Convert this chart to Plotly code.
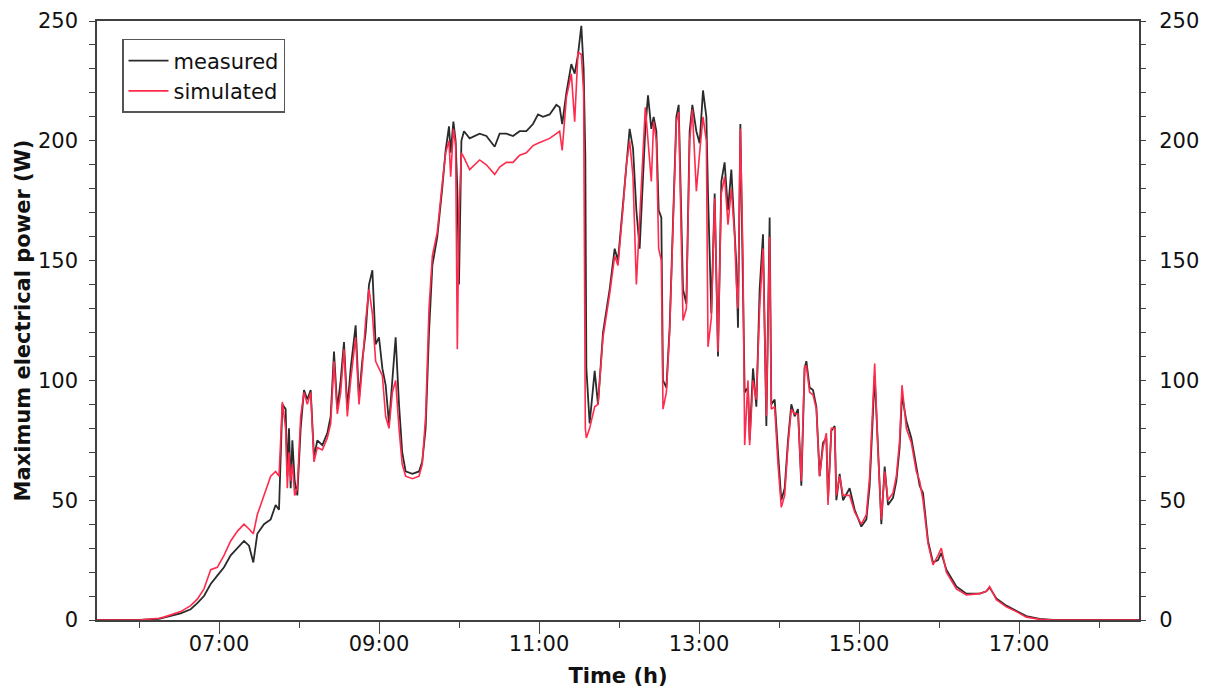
import plotly.graph_objects as go
import pandas as pd

# Time of day in decimal hours
time_h = [5.475, 6.0, 6.25, 6.3125, 6.521, 6.646, 6.729, 6.8125, 6.896, 6.979, 7.0625, 7.146, 7.229,
          7.3125, 7.375, 7.429, 7.479, 7.5625, 7.646, 7.708, 7.75, 7.771, 7.792, 7.833, 7.854, 7.875,
          7.896, 7.917, 7.946, 7.979, 8.021, 8.0625, 8.104, 8.146, 8.1875, 8.229, 8.292, 8.354, 8.396,
          8.4375, 8.479, 8.521, 8.5625, 8.604, 8.646, 8.708, 8.75, 8.79, 8.833, 8.875, 8.917, 8.958,
          9.0, 9.042, 9.083, 9.125, 9.167, 9.208, 9.25, 9.29, 9.333, 9.417, 9.5, 9.54, 9.583, 9.625,
          9.667, 9.729, 9.79, 9.833, 9.875, 9.896, 9.93, 9.958, 9.979, 10.0, 10.03, 10.0625,
          10.133, 10.258, 10.342, 10.446, 10.508, 10.592, 10.675, 10.758, 10.842, 10.925, 10.9875,
          11.05, 11.133, 11.217, 11.258, 11.29, 11.342, 11.404, 11.446, 11.4875, 11.529, 11.558,
          11.579, 11.592, 11.633, 11.696, 11.7375, 11.8, 11.883, 11.946, 11.9875, 12.05, 12.092,
          12.133, 12.175, 12.217, 12.258, 12.3, 12.329, 12.3625, 12.404, 12.433, 12.467, 12.496,
          12.529, 12.55, 12.592, 12.633, 12.675, 12.717, 12.746, 12.8, 12.842, 12.883, 12.917,
          12.967, 13.008, 13.05, 13.092, 13.1125, 13.154, 13.196, 13.2375, 13.279, 13.32, 13.3625,
          13.404, 13.446, 13.467, 13.4875, 13.517, 13.55, 13.571, 13.6125, 13.633, 13.675, 13.717,
          13.758, 13.8, 13.842, 13.883, 13.904, 13.946, 13.9875, 14.029, 14.071, 14.1125, 14.154,
          14.196, 14.2375, 14.279, 14.32, 14.342, 14.383, 14.425, 14.467, 14.508, 14.55, 14.592,
          14.6125, 14.654, 14.696, 14.717, 14.758, 14.8, 14.883, 14.946, 15.029, 15.092, 15.133,
          15.196, 15.2375, 15.279, 15.321, 15.3625, 15.425, 15.467, 15.508, 15.5375, 15.592, 15.654,
          15.717, 15.758, 15.8, 15.8625, 15.925, 15.9875, 16.029, 16.092, 16.217, 16.342, 16.508,
          16.592, 16.633, 16.717, 16.842, 16.967, 17.092, 17.258, 17.425, 18.5]

measured = [0, 0, 0.5, 1, 2.8, 4.5, 7, 10, 15, 18.5, 22, 27, 30,
            33, 31, 24, 36, 40, 42, 48, 46, 70, 90, 88, 60, 80,
            55, 75, 58, 52, 80, 96, 92, 96, 68, 75, 73, 78, 85,
            112, 88, 100, 116, 88, 105, 123, 92, 108, 120, 140, 146, 115,
            118, 105, 98, 82, 100, 118, 90, 70, 62, 61, 62, 66, 80, 120,
            148, 160, 180, 196, 206, 195, 208, 200, 180, 140, 200, 204,
            201, 203, 202, 197.5, 203, 203, 202, 204, 204, 207, 211,
            210, 211, 215, 214, 207, 220, 232, 228, 236, 248, 230,
            194, 105, 82, 104, 90, 120, 138, 155, 150, 174, 191,
            205, 197, 171, 155, 188, 205, 219, 205, 210, 204, 171,
            168, 100, 97, 122, 171, 210, 215, 138, 132, 204, 215,
            204, 199, 221, 210, 178, 128, 178, 110, 183, 191, 171,
            188, 161, 148, 122, 207, 138, 95, 97, 75, 105, 89,
            138, 161, 81, 168, 90, 92, 70, 50, 55, 75, 90,
            85, 88, 56, 105, 108, 97, 96, 89, 60, 74, 76,
            50, 79, 81, 50, 61, 50, 55, 46, 39, 42, 56,
            102, 72, 40, 64, 48, 51, 58, 72, 94, 83, 76,
            64, 56, 53, 33, 24, 25, 28, 21, 14, 11, 11,
            12, 13.6, 9, 6, 3.8, 1.6, 0.5, 0, 0]

simulated = [0, 0, 0.7, 1.2, 3.5, 6, 8.7, 13, 21, 22, 27, 33, 37,
             40, 38, 36, 44, 52, 60, 62, 60, 75, 91, 80, 55, 70,
             58, 65, 52, 55, 85, 95, 90, 95, 66, 72, 71, 76, 82,
             108, 86, 95, 113, 85, 100, 118, 90, 105, 125, 138, 128, 108,
             105, 102, 85, 80, 95, 100, 80, 65, 60, 59, 60, 65, 85, 130,
             152, 162, 182, 195, 200, 185, 205, 198, 113, 170, 195, 193,
             188, 192, 190, 186, 189, 191, 191, 194, 195, 198, 199,
             200, 201, 203, 204, 196, 218, 228, 208, 237, 236, 220,
             80, 76, 80, 89, 90, 118, 136, 152, 148, 172, 190,
             200, 185, 140, 170, 195, 214, 200, 183, 208, 200, 155,
             150, 88, 95, 120, 168, 208, 212, 125, 130, 200, 213,
             179, 195, 210, 200, 114, 126, 176, 112, 178, 185, 165,
             180, 160, 140, 130, 205, 150, 73, 100, 73, 100, 92,
             130, 155, 85, 160, 88, 89, 65, 47, 52, 73, 88,
             86, 86, 58, 106, 106, 95, 94, 88, 60, 72, 78,
             48, 80, 80, 52, 60, 52, 52, 45, 40, 44, 60,
             107, 70, 42, 62, 50, 53, 60, 75, 98, 80, 74,
             62, 58, 50, 32, 23, 27, 30, 20, 13, 10.5, 11,
             12, 14, 8.5, 5.5, 3.5, 1.2, 0.3, 0, 0]

x_tick_labels = ["07:00", "09:00", "11:00", "13:00", "15:00", "17:00"]
y_tick_values = [0, 50, 100, 150, 200, 250]

base = pd.Timestamp("2000-01-01")
times = [base + pd.to_timedelta(h, unit="h") for h in time_h]
tick_times = [base + pd.Timedelta(lab + ":00") for lab in x_tick_labels]

FONT = "DejaVu Sans"
AX = "#404040"

fig = go.Figure()
fig.add_trace(go.Scatter(x=times, y=measured, mode="lines", name="measured",
                         line=dict(color="#2b2b2b", width=1.8)))
fig.add_trace(go.Scatter(x=times, y=simulated, mode="lines", name="simulated",
                         line=dict(color="#ff2a4c", width=1.6)))
# invisible copy on the right-hand axis so that it gets drawn
fig.add_trace(go.Scatter(x=times, y=measured, mode="lines", yaxis="y2", showlegend=False,
                         hoverinfo="skip", line=dict(width=0), opacity=0))

fig.update_layout(
    width=1198, height=680,
    margin=dict(l=89, r=67, t=13, b=68),
    paper_bgcolor="white", plot_bgcolor="white",
    font=dict(family=FONT, size=21, color="#111111"),
    showlegend=True,
    legend=dict(x=0.024, y=0.97, xanchor="left", yanchor="top",
                bgcolor="white", bordercolor="#555555", borderwidth=1.5,
                font=dict(size=21, family=FONT), itemwidth=40, tracegroupgap=0,
                entrywidth=134, entrywidthmode="pixels"),
    xaxis=dict(
        type="date", automargin=False,
        range=[base + pd.to_timedelta(5.475, unit="h"), base + pd.to_timedelta(18.5, unit="h")],
        tickmode="array", tickvals=tick_times, ticktext=x_tick_labels,
        ticks="outside", ticklen=12, tickwidth=1.3, tickcolor=AX, ticklabelstandoff=-8,
        minor=dict(dtick=3600000, tick0=base, ticks="outside", ticklen=6, tickwidth=1.3, tickcolor=AX),
        showline=True, linecolor=AX, linewidth=1.5, mirror=True,
        showgrid=False, zeroline=False,
        title=dict(text="<b>Time (h)</b>", font=dict(size=21, family=FONT), standoff=17),
    ),
    yaxis=dict(
        range=[0, 250], tickmode="array", tickvals=y_tick_values, automargin=False,
        ticks="outside", ticklen=6, tickwidth=1.3, tickcolor=AX, ticklabelstandoff=7,
        ticklabeloverflow="allow",
        minor=dict(dtick=10, ticks="outside", ticklen=6, tickwidth=1.3, tickcolor=AX),
        showline=True, linecolor=AX, linewidth=1.5, mirror=True,
        showgrid=False, zeroline=False,
        title=dict(text="<b>Maximum electrical power (W)</b>", font=dict(size=21, family=FONT), standoff=2),
    ),
    yaxis2=dict(
        range=[0, 250], overlaying="y", side="right", tickmode="array", tickvals=y_tick_values,
        automargin=False, ticklabeloverflow="allow",
        ticks="outside", ticklen=6, tickwidth=1.3, tickcolor=AX, ticklabelstandoff=9,
        minor=dict(dtick=10, ticks="outside", ticklen=6, tickwidth=1.3, tickcolor=AX),
        showline=False, showgrid=False, zeroline=False,
    ),
)

fig.write_html("out.html")
